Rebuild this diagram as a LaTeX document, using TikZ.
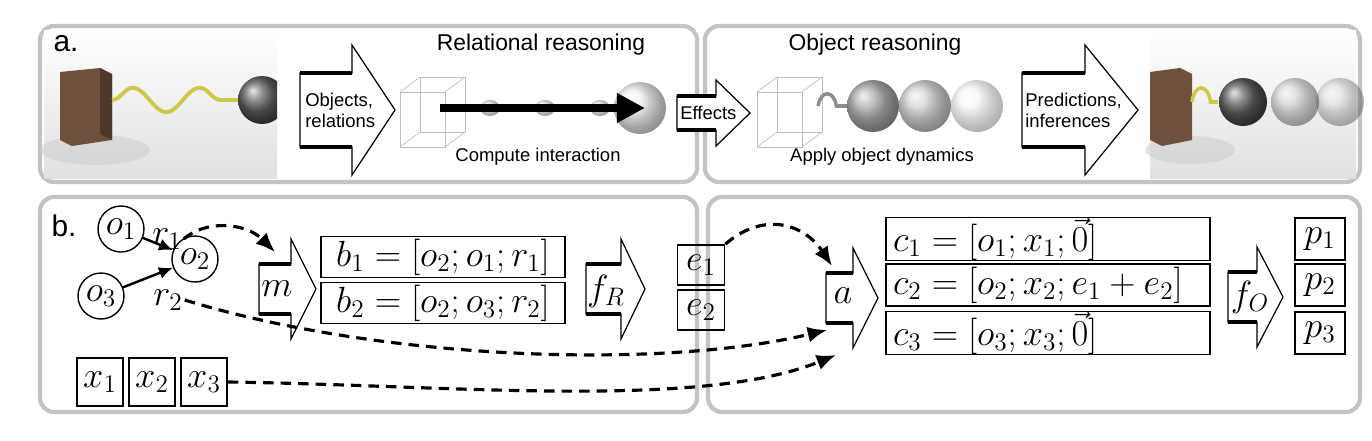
\documentclass[tikz,border=0pt]{standalone}
\usepackage{fontspec}
\usepackage{amsmath}
\newfontfamily\sff{Liberation Sans}
\usetikzlibrary{arrows.meta,decorations.pathmorphing}

\definecolor{panelgray}{RGB}{195,195,195}
\definecolor{woodbrown}{RGB}{110,80,60}
\definecolor{springyellow}{RGB}{205,200,70}

\tikzset{
  panel/.style={draw=panelgray, line width=2.4pt, rounded corners=8pt},
  obj/.style={draw, circle, line width=0.8pt, minimum size=46*0.02cm, inner sep=0pt, font=\fontsize{20}{22}\selectfont},
  vbox/.style={draw, line width=1pt, inner sep=0pt, font=\fontsize{21}{23}\selectfont},
  cbox/.style={vbox, text width=310*0.02cm, align=left, minimum width=324*0.02cm, minimum height=42*0.02cm},
  lab/.style={font=\fontsize{21}{23}\selectfont, inner sep=1pt},
  sanslab/.style={font=\sff\fontsize{10.5}{12}\selectfont, align=left, inner sep=0pt},
  dashedarrow/.style={line width=1.8pt, dash pattern=on 6pt off 4pt, -{Latex[length=11pt,width=9pt]}},
  solidarrow/.style={line width=1.4pt, -{Latex[length=8pt,width=7pt]}},
  wire/.style={black!25, line width=0.4pt},
}

% block arrow: left x, head base x, tip x, centre y, body half height, head half height
\newcommand{\blockarr}[7]{%
  \draw[line width=0.7pt, fill=white, line join=miter]
    (#1,#4-#5) -- (#2,#4-#5) -- (#2,#4-#6) -- (#3,#4) -- (#2,#4+#6) -- (#2,#4+#5) -- (#1,#4+#5) -- cycle;
  \draw[line width=2.4pt] (#1,#4-#5) -- (#2,#4-#5);
  \draw[line width=2.4pt] (#1,#4+#5) -- (#2,#4+#5);
  \coordinate (#7) at (#1*0.5+#3*0.5,#4);
}

% wire cube: front lower-left x, y
\newcommand{\wirecube}[2]{%
  \draw[wire] (#1,#2) rectangle ++(45,-55);
  \draw[wire] (#1+20,#2-15) rectangle ++(45,-55);
  \draw[wire] (#1,#2) -- ++(20,-15) (#1+45,#2) -- ++(20,-15)
    (#1,#2-55) -- ++(20,-15) (#1+45,#2-55) -- ++(20,-15);
}

\begin{document}
\begin{tikzpicture}[x=0.02cm, y=-0.02cm]
\useasboundingbox (0,0) rectangle (1372,440);

% panels
\draw[panel] (40,26) rectangle (697,182);
\draw[panel] (705,26) rectangle (1360,182);
\draw[panel] (40,197) rectangle (697,412);
\draw[panel] (708,197) rectangle (1360,412);

% photo left
\shade[top color=white, bottom color=black!12] (44,30) rectangle (277,178);
\fill[black!20, opacity=0.5] (95,150) ellipse (55 and 15);
\fill[woodbrown] (60,72) -- (100,68) -- (112,74) -- (112,140) -- (72,146) -- (60,140) -- cycle;
\fill[woodbrown!70!black] (100,68) -- (112,74) -- (112,140) -- (100,134) -- cycle;
\draw[springyellow, line width=2.2pt, decorate, decoration={snake, amplitude=7, segment length=38}] (112,100) -- (240,100);
\begin{scope}
  \clip (44,30) rectangle (277,178);
  \shade[ball color=black!60] (262,100) circle (24);
\end{scope}

% photo right
\shade[top color=white, bottom color=black!12] (1150,30) rectangle (1356,178);
\fill[black!20, opacity=0.5] (1190,150) ellipse (45 and 14);
\fill[woodbrown] (1150,72) -- (1180,68) -- (1192,74) -- (1192,140) -- (1162,146) -- (1150,140) -- cycle;
\draw[springyellow, line width=2pt, decorate, decoration={coil, aspect=0.5, amplitude=8, segment length=5}] (1192,102) -- (1218,102);
\shade[ball color=black!15, opacity=0.5] (1340,102) circle (24);
\shade[ball color=black!20, opacity=0.6] (1295,102) circle (24);
\shade[ball color=black!60] (1243,102) circle (24);

% relational reasoning drawing
\wirecube{400}{147}
\foreach \sx in {490,545,600}
  \shade[ball color=black!15, opacity=0.6] (\sx,108) ellipse (10 and 8);
\shade[ball color=black!8, opacity=0.7] (640,108) circle (26);
\draw[line width=5pt, -{Triangle[length=16pt,width=16pt]}] (440,108) -- (645,108);

% object reasoning drawing
\wirecube{757}{147}
\draw[black!45, line width=2pt, decorate, decoration={coil, aspect=0.5, amplitude=7, segment length=7}] (818,106) -- (848,106);
\shade[ball color=black!40, opacity=0.8] (873,106) circle (26);
\shade[ball color=black!25, opacity=0.7] (925,106) circle (26);
\shade[ball color=black!6, opacity=0.5] (977,106) circle (26);

% block arrows, panel a
\blockarr{300}{352}{395}{110}{37}{65}{aobj}
\blockarr{677}{716}{750}{113}{17}{33}{aeff}
\blockarr{1022}{1085}{1138}{110}{37}{65}{apred}

% texts, panel a
\node[font=\sff\fontsize{17}{18}\selectfont, inner sep=0pt] (alabel) at (66,44) {a.};
\node[font=\sff\fontsize{13}{15}\selectfont] (reltitle) at (541,45) {Relational reasoning};
\node[font=\sff\fontsize{10.5}{12}\selectfont] (relsub) at (538,157) {Compute interaction};
\node[font=\sff\fontsize{13}{15}\selectfont] (objtitle) at (875,45) {Object reasoning};
\node[font=\sff\fontsize{10.5}{12}\selectfont] (objsub) at (882,157) {Apply object dynamics};
\node[sanslab, anchor=west] (objtxt) at (305,110) {Objects,\\relations};
\node[sanslab, anchor=west] (efftxt) at (680,113) {Effects};
\node[sanslab, anchor=west] (predtxt) at (1025,110) {Predictions,\\inferences};

% panel b: graph
\node[font=\sff\fontsize{17}{18}\selectfont, inner sep=0pt] (blabel) at (64,226) {b.};
\node[obj] (o1) at (121,229) {$o_1$};
\node[obj] (o2) at (195,259) {$o_2$};
\node[obj] (o3) at (101,296) {$o_3$};
\draw[solidarrow] (o1) -- (o2);
\draw[solidarrow] (o3) -- (o2);
\node[lab] (r1) at (167,239) {$r_1$};
\node[lab] (r2) at (168,300) {$r_2$};
\node[vbox, minimum width=46*0.02cm, minimum height=48*0.02cm] (x1) at (100,382) {$x_1$};
\node[vbox, minimum width=46*0.02cm, minimum height=48*0.02cm] (x2) at (152,382) {$x_2$};
\node[vbox, minimum width=46*0.02cm, minimum height=48*0.02cm] (x3) at (204,382) {$x_3$};

% marshalling
\blockarr{259}{291}{316}{289}{25}{50}{mar}
\node[lab] (m) at (277,289) {$m$};
\coordinate (mtop) at (275,252);
\node[vbox, minimum width=244*0.02cm, minimum height=41*0.02cm] (b1) at (443,257) {$b_1=[o_2;o_1;r_1]$};
\node[vbox, minimum width=244*0.02cm, minimum height=41*0.02cm] (b2) at (443,303) {$b_2=[o_2;o_3;r_2]$};

% relational model
\blockarr{586}{621}{645}{289}{25}{50}{frel}
\node[lab] (fR) at (606,291) {$f_R$};
\node[vbox, minimum width=47*0.02cm, minimum height=40*0.02cm] (e1) at (701,265) {$e_1$};
\node[vbox, minimum width=47*0.02cm, minimum height=40*0.02cm] (e2) at (701,310) {$e_2$};

% aggregation
\blockarr{826}{853}{878}{298}{25}{50}{agg}
\node[lab] (a) at (843,296) {$a$};
\coordinate (atop) at (832,266);
\coordinate (amid) at (827,330);
\coordinate (abot) at (836,355);
\node[cbox] (c1) at (1048,239) {$c_1=[o_1;x_1;\vec{0}]$};
\node[cbox] (c2) at (1048,285) {$c_2=[o_2;x_2;e_1+e_2]$};
\node[cbox] (c3) at (1048,333) {$c_3=[o_3;x_3;\vec{0}]$};

% object model
\blockarr{1228}{1257}{1283}{297}{25}{50}{fobj}
\node[lab] (fO) at (1250,297) {$f_O$};
\node[vbox, minimum width=50*0.02cm, minimum height=42*0.02cm] (p1) at (1320,239) {$p_1$};
\node[vbox, minimum width=50*0.02cm, minimum height=42*0.02cm] (p2) at (1320,285) {$p_2$};
\node[vbox, minimum width=50*0.02cm, minimum height=42*0.02cm] (p3) at (1320,333) {$p_3$};

% dashed connectors
\draw[dashedarrow] (r1.east) .. controls (205,220) and (245,222) .. (mtop);
\draw[dashedarrow] (e1.north east) .. controls (765,210) and (805,225) .. (atop);
\draw[dashedarrow] (r2.east) .. controls (380,360) and (660,370) .. (amid);
\draw[dashedarrow] (x3.east) .. controls (450,385) and (700,410) .. (abot);
\end{tikzpicture}
\end{document}
